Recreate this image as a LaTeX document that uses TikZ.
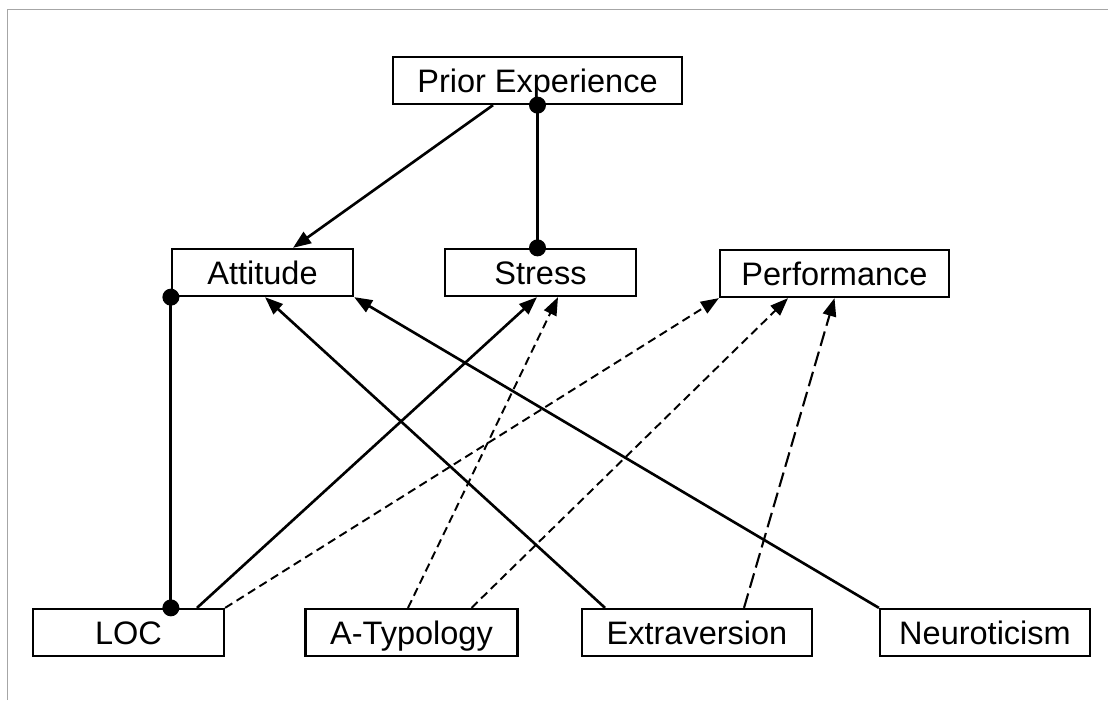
\documentclass[tikz,border=0pt]{standalone}
\usepackage{fontspec}
\setmainfont{Liberation Sans}
\usetikzlibrary{arrows.meta}

\begin{document}
\begin{tikzpicture}[x=0.02cm,y=-0.02cm]
	\tikzstyle{box}=[draw,line width=1.3pt,minimum height=0.94cm,inner sep=0pt,text height=0.5cm,text depth=0.04cm,font=\fontsize{18.5}{21}\selectfont]
	\tikzstyle{link}=[line width=1.5pt,-{Triangle[length=0.36cm,width=0.27cm]}]
	\tikzstyle{hint}=[link,line width=1.1pt,dash pattern=on 0.17cm off 0.1cm]
	\tikzstyle{longhint}=[link,line width=1.2pt,dash pattern=on 0.3cm off 0.12cm]
	\tikzstyle{assoc}=[line width=1.6pt]
	\useasboundingbox (0,0) rectangle (1108,700);
	\draw [gray!70,line width=0.5pt] (7,700) -- (7,9) -- (1108,9);
	\node [box,minimum width=5.78cm] (prior) at (537.5,80.5) {Prior Experience};
	\node [box,minimum width=3.62cm] (attitude) at (262.5,272.5) {Attitude};
	\node [box,minimum width=3.82cm] (stress) at (540.5,272.5) {Stress};
	\node [box,minimum width=4.58cm] (perf) at (834.5,273.5) {Performance};
	\node [box,minimum width=3.82cm] (loc) at (128.5,632.5) {LOC};
	\node [box,minimum width=4.24cm] (atyp) at (411.5,632.5) {A-Typology};
	\node [box,minimum width=4.6cm] (extra) at (697,632.5) {Extraversion};
	\node [box,minimum width=4.2cm] (neuro) at (985,632.5) {Neuroticism};
	\draw [link] ([xshift=-0.89cm]prior.south) -- ([xshift=0.61cm]attitude.north);
	\draw [assoc] (prior.south) -- (prior.south |- stress.north);
	\fill (prior.south) circle (0.17cm);
	\fill (prior.south |- stress.north) circle (0.17cm);
	\draw [assoc] (attitude.south west) -- (attitude.south west |- loc.north);
	\fill (attitude.south west) circle (0.17cm);
	\fill (attitude.south west |- loc.north) circle (0.17cm);
	\draw [link] ([xshift=1.37cm]loc.north) -- ([xshift=-0.07cm]stress.south);
	\draw [hint] (loc.north east) -- (perf.south west);
	\draw [hint] ([xshift=-0.07cm]atyp.north) -- ([xshift=0.35cm]stress.south);
	\draw [hint] ([xshift=1.2cm]atyp.north) -- ([xshift=-0.93cm]perf.south);
	\draw [link] ([xshift=-1.84cm]extra.north) -- ([xshift=0.05cm]attitude.south);
	\draw [longhint] ([xshift=0.94cm]extra.north) -- (perf.south);
	\draw [link] (neuro.north west) -- (attitude.south east);
\end{tikzpicture}
\end{document}
